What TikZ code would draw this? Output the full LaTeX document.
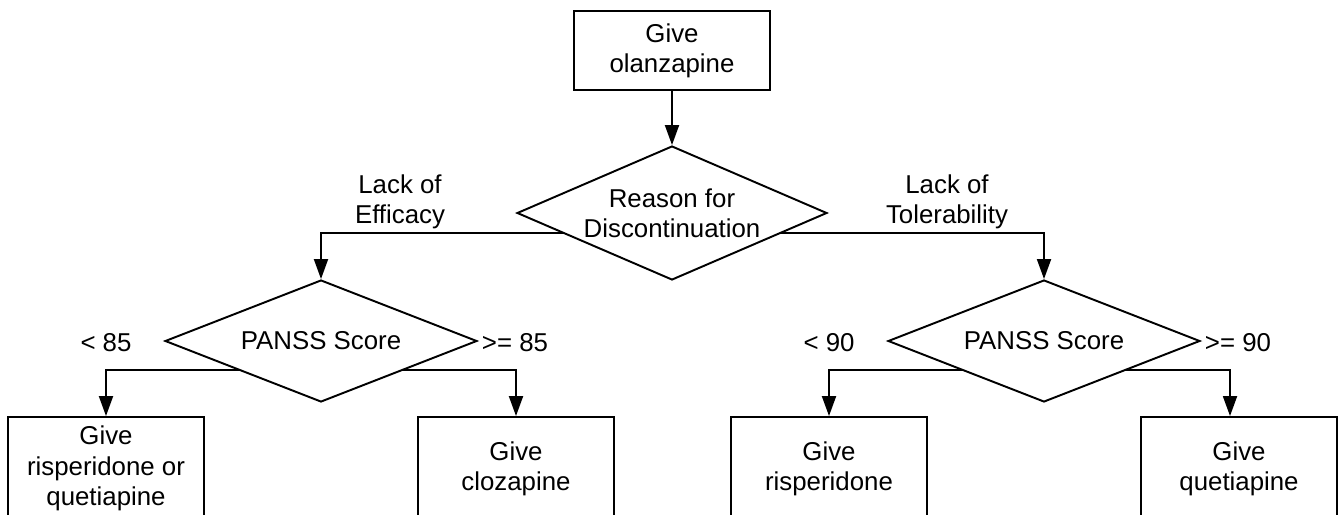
\documentclass[tikz,border=0pt]{standalone}
\usepackage{fontspec}
\setmainfont{Liberation Sans}
\usetikzlibrary{shapes.geometric,arrows.meta,calc}

\tikzset{
  txt/.style={font=\fontsize{14.7}{17.2}\selectfont, align=center},
  block/.style={txt, draw, line width=1.1pt, inner sep=0pt,
    minimum width=3.92cm, minimum height=2.06cm},
  cond/.style={txt, draw, diamond, line width=1.1pt, inner sep=0pt,
    aspect=2.4, minimum width=6.24cm, minimum height=2.44cm},
  flow/.style={line width=1.1pt, -{Triangle[length=0.4cm, width=0.28cm]}},
}

\begin{document}
\begin{tikzpicture}[x=0.02cm, y=-0.02cm]
    \useasboundingbox (0,0) rectangle (1344,514);
    \node[block, minimum height=1.58cm] (start) at (672,50.5) {Give\\olanzapine};
    \node[cond, minimum width=6.2cm, minimum height=2.68cm, aspect=2.3] (reason) at (672,213) {Reason for\\Discontinuation};
    \node[cond] (pl) at (321,341) {PANSS Score};
    \node[cond] (pr) at (1044,341) {PANSS Score};
    \node[block] (b1) at (106,468.5) {Give\\risperidone or\\quetiapine};
    \node[block] (b2) at (516,468.5) {Give\\clozapine};
    \node[block] (b3) at (829,468.5) {Give\\risperidone};
    \node[block] (b4) at (1239,468.5) {Give\\quetiapine};

    \node[txt] (eff) at (400,202) {Lack of\\Efficacy};
    \node[txt] (tol) at (947,202) {Lack of\\Tolerability};
    \node[txt] (l85) at (106,343) {< 85};
    \node[txt] (g85) at (515,343) {>= 85};
    \node[txt] (l90) at (829,343) {< 90};
    \node[txt] (g90) at (1238,343) {>= 90};

    \draw[flow] (start) -- (reason);
    \draw[flow] ($(reason.west)!0.3!(reason.south)$) -| (pl);
    \draw[flow] ($(reason.east)!0.3!(reason.south)$) -| (pr);
    \draw[flow] ($(pl.west)!0.475!(pl.south)$) -| (b1);
    \draw[flow] ($(pl.east)!0.475!(pl.south)$) -| (b2);
    \draw[flow] ($(pr.west)!0.475!(pr.south)$) -| (b3);
    \draw[flow] ($(pr.east)!0.475!(pr.south)$) -| ([xshift=-0.18cm]b4.north);
\end{tikzpicture}
\end{document}
